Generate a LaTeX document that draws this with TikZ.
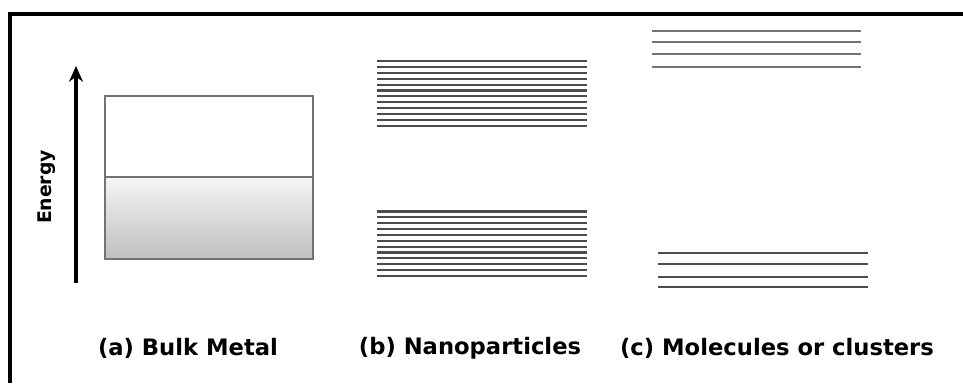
\documentclass[tikz,border=0pt]{standalone}
\usepackage{fontspec}
\setmainfont{DejaVu Sans}
\usetikzlibrary{arrows.meta}

\tikzset{
	level/.style={line width=1.2pt,draw=black!70},
	caption/.style={font=\bfseries\fontsize{12.9}{15}\selectfont,inner sep=0pt}
}

\begin{document}
\begin{tikzpicture}[x=0.02cm,y=-0.02cm]
		\useasboundingbox (0,0) rectangle (963,383);
		\draw[line width=2.3pt] (10,383) -- (10,14) -- (963,14);
		\coordinate (eLow) at (76,283);
		\coordinate (eHigh) at (76,66);
		\draw[line width=1.9pt,-{Stealth[length=9pt,width=8pt]}] (eLow) -- (eHigh);
		\node[font=\bfseries\fontsize{10.7}{12}\selectfont,rotate=90,inner sep=0pt] (energy) at (47,187) {Energy};
		\shade[top color=black!4,bottom color=black!25] (105,177) rectangle (313,259);
		\draw[black!55,line width=0.6pt] (105,96) rectangle (313,259);
		\draw[black!55,line width=0.6pt] (105,177) -- (313,177);
		\foreach \i in {0,...,11}{
			\draw[level] (377,{61+5.9*\i}) -- (587,{61+5.9*\i});
			\draw[level] (377,{211.5+5.85*\i}) -- (587,{211.5+5.85*\i});
		}
		\foreach \y in {31,42,54,67}{
			\draw[level,draw=black!55] (652,\y) -- (861,\y);
		}
		\foreach \y in {253,264,277,287}{
			\draw[level] (658,\y) -- (868,\y);
		}
		\node[caption] (bulk) at (188,348) {(a) Bulk Metal};
		\node[caption] (nano) at (470,348) {(b) Nanoparticles};
		\node[caption] (mol) at (777,348) {(c) Molecules or clusters};
\end{tikzpicture}
\end{document}
